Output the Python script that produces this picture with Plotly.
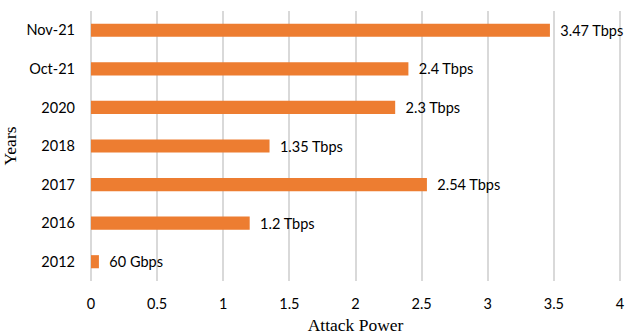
import plotly.graph_objects as go

years = ["2012", "2016", "2017", "2018", "2020", "Oct-21", "Nov-21"]
power_tbps = [0.06, 1.2, 2.54, 1.35, 2.3, 2.4, 3.47]
labels = ["60 Gbps", "1.2 Tbps", "2.54 Tbps", "1.35 Tbps", "2.3 Tbps", "2.4 Tbps", "3.47 Tbps"]
x_ticks = [0, 0.5, 1, 1.5, 2, 2.5, 3, 3.5, 4]

fig = go.Figure(go.Bar(
    x=power_tbps, y=years, orientation="h",
    marker=dict(color="#ED7D31", line=dict(width=0)),
    width=0.34,
    text=["  " + t for t in labels], textposition="outside",
    textfont=dict(family="Lato, Open Sans, sans-serif", size=14.5, color="#000000"),
    constraintext="none", cliponaxis=False,
))

fig.update_layout(
    width=626, height=336,
    margin=dict(l=89, r=2, t=11, b=55),
    plot_bgcolor="white", paper_bgcolor="white",
    showlegend=False,
    font=dict(family="Lato, Open Sans, sans-serif", size=14.5, color="#000000"),
    xaxis=dict(
        range=[-0.015, 4.015], tickvals=x_ticks, ticktext=[f"{v:g}" for v in x_ticks],
        showgrid=True, gridcolor="#D9D9D9", gridwidth=2,
        zeroline=False, showline=False, ticks="",
        tickfont=dict(size=14.5), ticklabelstandoff=12, ticklabeloverflow="allow",
        title=dict(text="Attack Power", font=dict(family="Liberation Serif, Times New Roman, serif", size=17.5), standoff=8),
    ),
    yaxis=dict(
        categoryorder="array", categoryarray=years,
        showgrid=False, zeroline=False, showline=False, ticks="",
        tickfont=dict(size=14.5), ticklabelstandoff=13,
        title=dict(text="Years", font=dict(family="Liberation Serif, Times New Roman, serif", size=17.5), standoff=6),
    ),
)

fig.write_html("out.html")
